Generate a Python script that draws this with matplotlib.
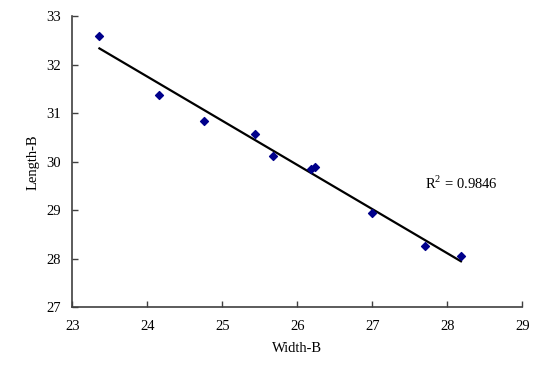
import numpy as np
import matplotlib
matplotlib.use('Agg')
import matplotlib.pyplot as plt

plt.rcParams['font.family'] = 'Liberation Serif'
plt.rcParams['mathtext.fontset'] = 'custom'
plt.rcParams['mathtext.rm'] = 'Liberation Serif'

# Data
width_b = [23.36, 24.15, 24.75, 25.44, 25.68, 26.18, 26.24, 26.99, 27.70, 28.18]
length_b = [32.60, 31.38, 30.85, 30.58, 30.11, 29.86, 29.90, 28.95, 28.26, 28.05]
r2_label = 'R$^{2}$ = 0.9846'

x = np.array(width_b)
y = np.array(length_b)
slope, intercept = np.polyfit(x, y, 1)
xfit = np.array([x.min(), x.max()])

fig = plt.figure(figsize=(5.57, 3.74), dpi=100)
ax = fig.add_axes([0.130, 0.179, 0.808, 0.777])

ax.plot(xfit, slope * xfit + intercept, color='black', linewidth=1.6, zorder=2)
ax.scatter(x, y, marker='D', s=16, color='#00008B', zorder=3)

ax.text(27.7, 29.55, r2_label, fontsize=10.5, va='center', ha='left')

ax.set_xlim(23, 29)
ax.set_ylim(27, 33)
ax.set_xticks(range(23, 30))
ax.set_yticks(range(27, 34))
ax.set_xlabel('Width-B', fontsize=10.5, labelpad=7)
ax.set_ylabel('Length-B', fontsize=10.5, labelpad=5)
ax.tick_params(labelsize=10.5, direction='in', length=4, width=1, color='#404040')
ax.tick_params(axis='x', pad=9)
ax.tick_params(axis='y', pad=8)

for side in ['top', 'right']:
    ax.spines[side].set_visible(False)
for side in ['left', 'bottom']:
    ax.spines[side].set_color('#404040')
    ax.spines[side].set_linewidth(1.2)

plt.savefig('out.png', dpi=100)
plt.close()
